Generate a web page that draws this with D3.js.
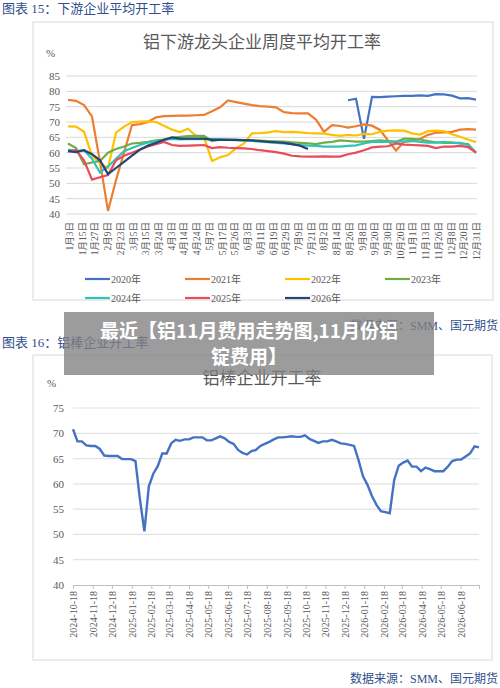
<!DOCTYPE html>
<html><head><meta charset="utf-8">
<script src="https://cdn.jsdelivr.net/npm/d3@7"></script>
<style>
body{margin:0;background:#fff;}
text{font-family:"Liberation Serif","Noto Sans CJK SC",serif;}
</style></head>
<body>
<svg id="c" width="500" height="688"></svg>
<script>
// top chart: weekly index 0..51
const topLabels = ["1月3日","1月15日","1月27日","2月9日","2月23日","3月5日","3月15日","3月24日","4月3日","4月14日","4月24日","5月7日","5月17日","5月26日","6月3日","6月11日","6月19日","6月29日","7月9日","7月21日","8月2日","8月14日","8月26日","9月8日","9月20日","9月30日","10月20日","11月1日","11月13日","11月26日","12月8日","12月20日","12月31日"];
const seriesNames = ["2020年","2021年","2022年","2023年","2024年","2025年","2026年"];
const seriesColors = ["#4472c4","#ed7d31","#ffc000","#70ad47","#2ec4b6","#e84c5a","#264478"];
const s2020 = Array(35).fill(null).concat([77.1,77.6,64.5,78.2,78.1,78.3,78.4,78.5,78.5,78.7,78.5,79.1,79,78.6,77.7,77.8,77.3]);
const s2021 = [77.2,76.9,75.5,71.8,57,41,51,60,69,69.3,70,71.5,71.9,72,72.1,72.1,72.2,72.3,73.5,74.8,77,76.5,76,75.5,75.2,75,74.8,73.2,72.9,72.8,72.8,70.8,66.8,69,68.7,68.2,68.6,69.2,68.8,67.4,64,60.7,63.5,63.8,64.5,65.8,66.5,66.6,66.8,67.5,67.7,67.5];
const s2022 = [68.6,68.5,66.8,59,56.5,55,66.5,68.5,70,70.1,70.2,70,68.8,67.5,66.7,67.8,65.5,65,57.3,58.5,59.2,61.5,63,66.3,66.4,66.6,67,66.7,66.8,66.6,66.4,66.3,66.2,65.8,65.5,65.8,65.6,66.1,66,66.8,67.2,67.3,67.2,66.3,65.9,67,67.2,67,66,65.2,64.3,63.4];
const s2023 = [63,61.5,56.2,56.8,57.3,60,61.2,62,63,63.2,63.5,64,64.3,64.8,65.2,65.4,65.5,65.5,63.8,64.2,64.2,64.1,64,64,63.9,63.8,63.7,63.6,63.4,63.2,63,62.8,63.3,63.5,64,63.8,63.6,63.6,63.8,64,63.8,63.5,64.6,64.5,64.3,63.8,63.4,63.2,63.3,63,62.8,60];
const s2024 = [61,60.5,60.8,58,53.5,55.5,58,60.5,61.5,62.5,63.3,63.8,64.2,64.5,64.3,64.4,64.4,64.4,64.4,64.4,64.3,64.2,64,63.8,63.6,63.4,63.2,63,62.8,62.5,62.3,62.2,62,62,62,62.2,62.4,63,63.5,63.6,63.5,63.6,63.7,63.8,63.5,63.3,63.3,63.5,63.3,63.2,62.5,60];
const s2025 = [60.5,60.8,57.5,51.2,52,52.7,57.5,59,60,61,62,62.8,63.5,62.5,62.2,62.3,62.4,62.5,61.5,61.8,61.6,61.5,61.4,61.2,60.8,60.5,60.2,59.7,59,58.8,58.7,58.7,58.8,58.7,58.7,59.5,60,60.8,61.7,62,62.1,63,62.6,62.5,62.4,62.2,61.5,62,62,62.2,61.8,60];
const s2026 = [60.5,60.2,60.8,59.5,57.5,53,55,57,59,61,62.3,63.2,64.2,65,64.6,64.6,64.6,64.6,64.2,64.2,64.2,64.2,64.1,64,63.8,63.5,63.4,63.2,62.8,62.3,61.2];
const topSeries = [s2020,s2021,s2022,s2023,s2024,s2025,s2026];
const topTicks = [40,45,50,55,60,65,70,75,80,85];

// bottom chart: weekly from 2024-10-18
const rodStart = "2024-10-18";
const rodValues = [70.8,68.4,68.4,67.6,67.5,67.5,66.9,65.6,65.5,65.5,65.5,64.9,64.9,64.9,64.5,57,50.6,59.5,62,63.5,66,66,68,68.7,68.5,68.8,68.8,69.2,69.2,69.2,68.6,68.6,69,69.4,69,68.3,67.9,66.7,66.1,65.8,66.5,66.7,67.5,67.9,68.3,68.8,69.2,69.2,69.3,69.4,69.3,69.3,69.6,68.9,68.5,68.1,68.4,68.4,68.7,68.4,68,67.9,67.7,67.5,64.7,61.5,59.8,57.6,55.9,54.6,54.4,54.2,60.8,63.6,64.2,64.6,63.4,63.4,62.5,63.2,62.9,62.5,62.5,62.5,63.4,64.5,64.8,64.8,65.4,66,67.4,67.2];
const rodTickLabels = ["2024-10-18","2024-11-18","2024-12-18","2025-01-18","2025-02-18","2025-03-18","2025-04-18","2025-05-18","2025-06-18","2025-07-18","2025-08-18","2025-09-18","2025-10-18","2025-11-18","2025-12-18","2026-01-18","2026-02-18","2026-03-18","2026-04-18","2026-05-18","2026-06-18"];
const rodTicks = [40,45,50,55,60,65,70,75];

const svg = d3.select("#c");
const titleBlue = "#2f4f8f";

// headings
svg.append("text").attr("x",2).attr("y",13).attr("fill",titleBlue).style("font-size","13px").text("图表 15：下游企业平均开工率");
svg.append("text").attr("x",2).attr("y",347).attr("fill",titleBlue).style("font-size","13px").text("图表 16：铝棒企业开工率");
svg.append("text").attr("x",498).attr("y",330).attr("text-anchor","end").attr("fill",titleBlue).style("font-size","12px").text("数据来源：SMM、国元期货");
svg.append("text").attr("x",498).attr("y",683).attr("text-anchor","end").attr("fill",titleBlue).style("font-size","12px").text("数据来源：SMM、国元期货");

// ---- top chart
svg.append("rect").attr("x",33).attr("y",22).attr("width",460).attr("height",278).attr("fill","#fff").attr("stroke","#d9d9d9");
svg.append("text").attr("x",262).attr("y",48).attr("text-anchor","middle").attr("fill","#595959").style("font-size","17px").text("铝下游龙头企业周度平均开工率");
svg.append("text").attr("x",46).attr("y",57).attr("fill","#595959").style("font-size","11px").text("%");

const xT = d3.scaleLinear().domain([0,51]).range([68,476]);
const yT = d3.scaleLinear().domain([40,85]).range([214,76]);
topTicks.forEach(t => {
    svg.append("line").attr("x1",66).attr("x2",477).attr("y1",yT(t)).attr("y2",yT(t)).attr("stroke","#d9d9d9");
    svg.append("text").attr("x",60).attr("y",yT(t)+4).attr("text-anchor","end").attr("fill","#595959").style("font-size","11px").text(t);
});
const xLab = d3.scalePoint().domain(topLabels).range([70,477]);
topLabels.forEach(l => {
    svg.append("text").attr("transform",`translate(${xLab(l)+3},222) rotate(-90)`).attr("text-anchor","end")
        .attr("fill","#595959").style("font-size","9.5px").text(l);
});
const lineT = d3.line().defined(d => d != null).x((d,i) => xT(i)).y(d => yT(d));
topSeries.forEach((s,k) => {
    svg.append("path").datum(s).attr("d",lineT).attr("fill","none").attr("stroke",seriesColors[k]).attr("stroke-width",2.2);
});
seriesNames.forEach((n,k) => {
    const lx = 85 + (k%4)*100, ly = 279 + Math.floor(k/4)*19;
    svg.append("line").attr("x1",lx).attr("x2",lx+25).attr("y1",ly).attr("y2",ly).attr("stroke",seriesColors[k]).attr("stroke-width",2.2);
    svg.append("text").attr("x",lx+26).attr("y",ly+4).attr("fill","#595959").style("font-size","10px").text(n);
});

// ---- bottom chart
svg.append("rect").attr("x",33).attr("y",355).attr("width",459).attr("height",305).attr("fill","#fff").attr("stroke","#d9d9d9");
svg.append("text").attr("x",262).attr("y",384).attr("text-anchor","middle").attr("fill","#595959").style("font-size","17px").text("铝棒企业开工率");
svg.append("text").attr("x",47).attr("y",387).attr("fill","#595959").style("font-size","11px").text("%");

const parse = d3.timeParse("%Y-%m-%d");
const t0 = parse(rodStart);
const rodDates = rodValues.map((v,i) => d3.timeDay.offset(t0, i*7));
const xB = d3.scaleTime().domain([rodDates[0], rodDates[rodDates.length-1]]).range([73,479]);
const yB = d3.scaleLinear().domain([40,75]).range([585,408]);
rodTicks.forEach(t => {
    if (t > 40) svg.append("line").attr("x1",73).attr("x2",479).attr("y1",yB(t)).attr("y2",yB(t)).attr("stroke","#e3e3e3").attr("stroke-width",1.2);
    svg.append("text").attr("x",64).attr("y",yB(t)+4).attr("text-anchor","end").attr("fill","#595959").style("font-size","11px").text(t);
});
const xAxis = d3.axisBottom(xB).tickValues(rodTickLabels.map(parse)).tickSize(4).tickFormat("");
const g = svg.append("g").attr("transform","translate(0,585)").call(xAxis);
g.selectAll("path,line").attr("stroke","#bfbfbf");
rodTickLabels.forEach(l => {
    svg.append("text").attr("transform",`translate(${xB(parse(l))+4},591) rotate(-90)`).attr("text-anchor","end")
        .attr("fill","#595959").style("font-size","10px").text(l);
});
svg.append("path").datum(rodValues).attr("fill","none").attr("stroke","#4472c4").attr("stroke-width",2.4)
    .attr("d", d3.line().x((d,i) => xB(rodDates[i])).y(d => yB(d)));

// ---- overlay banner
svg.append("rect").attr("x",64).attr("y",312).attr("width",370).attr("height",63).attr("fill","rgba(128,128,128,0.78)");
svg.append("text").attr("x",249).attr("y",338).attr("text-anchor","middle").attr("fill","#fff")
    .style("font-family","'Noto Sans CJK SC'").style("font-weight","bold").style("font-size","19px").text("最近【铝11月费用走势图,11月份铝");
svg.append("text").attr("x",249).attr("y",364).attr("text-anchor","middle").attr("fill","#fff")
    .style("font-family","'Noto Sans CJK SC'").style("font-weight","bold").style("font-size","19px").text("锭费用】");
</script>
</body></html>
